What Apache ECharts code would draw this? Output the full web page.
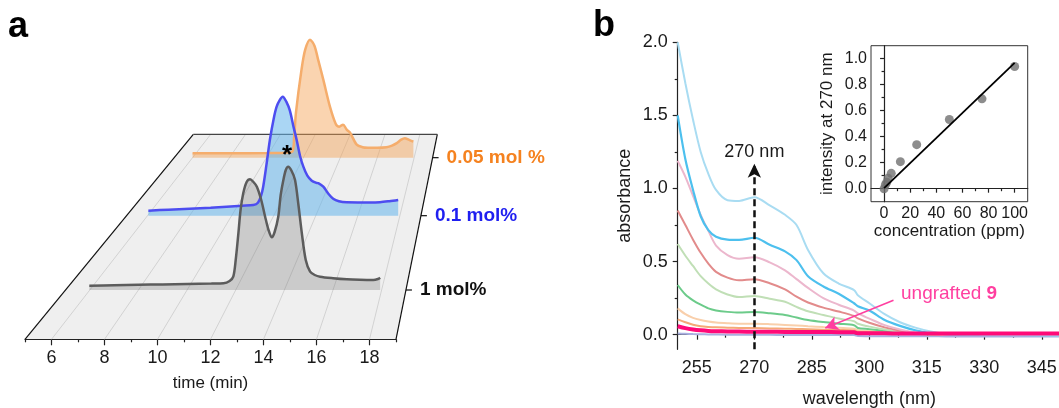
<!DOCTYPE html>
<html><head><meta charset="utf-8">
<script src="https://cdn.jsdelivr.net/npm/echarts@6/dist/echarts.min.js"></script>
<style>html,body{margin:0;padding:0;background:#fff;}#c{width:1059px;height:408px;}</style>
</head><body><div id="c"></div>
<script>
// ---------------- Panel a : GPC traces (time in min, normalised intensity) ----------------
const timeTicks = [6, 8, 10, 12, 14, 16, 18];
const timeMinor = [5, 7, 9, 11, 13, 15, 17, 19];
const traceLabels = ['0.05 mol %', '0.1 mol%', '1 mol%'];

const orangeTime = [6.0, 8, 10, 11.0, 11.4, 11.5, 11.6, 11.9, 12.1, 12.36, 12.6, 12.8, 13.08, 13.44, 13.75, 13.95, 14.15, 14.35, 14.53, 14.89, 15.2, 15.5, 16.0, 16.5, 16.8, 17.06, 17.3, 17.5, 17.7, 17.96];
const orangeInt  = [0.044, 0.045, 0.046, 0.05, 0.06, 0.2, 0.45, 0.88, 1.08, 1.18, 1.12, 0.98, 0.78, 0.51, 0.34, 0.31, 0.33, 0.28, 0.25, 0.13, 0.105, 0.10, 0.10, 0.105, 0.12, 0.145, 0.18, 0.195, 0.18, 0.16];

const blueTime = [6.04, 7, 8, 9, 9.76, 10.5, 11.03, 11.25, 11.4, 11.5, 11.65, 11.82, 12.0, 12.14, 12.3, 12.43, 12.6, 12.77, 12.93, 13.09, 13.25, 13.41, 13.6, 13.81, 14.0, 14.12, 14.36, 14.6, 14.83, 15.1, 15.47, 16.0, 16.5, 17.05, 17.5, 17.92];
const blueInt  = [0.05, 0.06, 0.07, 0.08, 0.09, 0.10, 0.107, 0.13, 0.2, 0.29, 0.5, 0.76, 0.97, 1.09, 1.16, 1.19, 1.14, 1.05, 0.9, 0.76, 0.6, 0.49, 0.4, 0.35, 0.33, 0.325, 0.29, 0.22, 0.17, 0.145, 0.134, 0.133, 0.133, 0.135, 0.145, 0.157];

const grayTime = [5.98, 7, 8, 9, 10, 11, 11.5, 11.75, 11.9, 12.0, 12.11, 12.2, 12.31, 12.45, 12.59, 12.73, 12.87, 13.05, 13.21, 13.35, 13.48, 13.6, 13.75, 13.85, 13.96, 14.06, 14.16, 14.3, 14.44, 14.58, 14.72, 14.88, 15.06, 15.25, 15.47, 16.0, 16.57, 17.1, 17.66, 17.85, 17.94];
const grayInt  = [0.043, 0.048, 0.052, 0.056, 0.06, 0.064, 0.067, 0.09, 0.133, 0.3, 0.567, 0.8, 0.967, 1.08, 1.107, 1.08, 1.033, 0.9, 0.733, 0.6, 0.527, 0.58, 0.733, 0.95, 1.1, 1.2, 1.233, 1.19, 1.1, 0.85, 0.567, 0.3, 0.183, 0.15, 0.133, 0.118, 0.107, 0.102, 0.1, 0.11, 0.123];

const starPoint = [12.63, 0.657];

// ---------------- Panel b : UV-vis spectra ----------------
const wavelengthTicks = [255, 270, 285, 300, 315, 330, 345];
const wavelengthMinor = [262.5, 277.5, 292.5, 307.5, 322.5, 337.5];
const absTicks = [0, 0.5, 1.0, 1.5, 2.0];
const absMinor = [0.25, 0.75, 1.25, 1.75];

const wl = [250, 252, 254, 256, 258, 260, 263, 266, 270, 274, 278, 281, 284, 288, 292, 296, 297, 300, 304, 308, 312, 316, 320, 330, 340, 350];
const absLightBlue = [2.0, 1.72, 1.47, 1.25, 1.10, 0.99, 0.92, 0.915, 0.94, 0.885, 0.82, 0.75, 0.58, 0.42, 0.35, 0.305, 0.27, 0.215, 0.14, 0.085, 0.048, 0.022, 0.007, 0.0, -0.003, -0.005];
const absCyan      = [1.5, 1.2, 0.99, 0.81, 0.715, 0.67, 0.65, 0.648, 0.663, 0.615, 0.57, 0.51, 0.40, 0.33, 0.28, 0.215, 0.195, 0.165, 0.10, 0.06, 0.03, 0.012, 0.004, 0.0, -0.002, -0.003];
const absPink      = [1.19, 1.08, 0.95, 0.82, 0.71, 0.61, 0.545, 0.52, 0.53, 0.495, 0.44, 0.38, 0.32, 0.25, 0.205, 0.165, 0.145, 0.11, 0.065, 0.035, 0.015, 0.005, 0.0, 0.0, -0.002, -0.003];
const absSalmon    = [0.85, 0.75, 0.65, 0.56, 0.486, 0.43, 0.39, 0.372, 0.38, 0.352, 0.31, 0.26, 0.22, 0.185, 0.158, 0.128, 0.112, 0.082, 0.05, 0.028, 0.012, 0.004, 0.0, 0.0, -0.002, -0.003];
const absLightGreen= [0.62, 0.54, 0.47, 0.40, 0.35, 0.31, 0.275, 0.258, 0.265, 0.246, 0.225, 0.19, 0.16, 0.135, 0.11, 0.092, 0.075, 0.055, 0.035, 0.018, 0.008, 0.003, 0.0, 0.0, -0.002, -0.003];
const absGreen     = [0.34, 0.275, 0.235, 0.205, 0.18, 0.166, 0.156, 0.151, 0.155, 0.147, 0.135, 0.117, 0.10, 0.086, 0.075, 0.065, 0.046, 0.038, 0.026, 0.015, 0.007, 0.003, 0.0, 0.0, -0.002, -0.003];
const absLightOrange=[0.18, 0.14, 0.115, 0.10, 0.09, 0.083, 0.078, 0.075, 0.075, 0.072, 0.067, 0.063, 0.058, 0.052, 0.047, 0.041, 0.03, 0.025, 0.018, 0.012, 0.007, 0.003, 0.001, 0.0, -0.002, -0.003];
const absOrange    = [0.105, 0.085, 0.068, 0.058, 0.053, 0.05, 0.048, 0.046, 0.045, 0.043, 0.041, 0.039, 0.037, 0.034, 0.032, 0.029, 0.02, 0.017, 0.013, 0.009, 0.006, 0.003, 0.001, 0.0, -0.002, -0.003];
const absUngrafted = [0.058, 0.045, 0.036, 0.03, 0.026, 0.024, 0.022, 0.021, 0.02, 0.02, 0.019, 0.019, 0.018, 0.018, 0.017, 0.017, 0.009, 0.009, 0.009, 0.008, 0.008, 0.008, 0.008, 0.008, 0.008, 0.008];
const absLavender  = [0.008, 0.006, 0.004, 0.003, 0.002, 0.001, 0.0, 0.0, -0.001, -0.001, -0.002, -0.002, -0.002, -0.003, -0.003, -0.003, -0.009, -0.01, -0.01, -0.011, -0.011, -0.011, -0.012, -0.012, -0.012, -0.012];

const arrow270 = [[270, -0.1], [270, 1.17]];
const ungraftedArrow = [[306.3, 0.235], [288.5, 0.045]];
const ungraftedLabelAt = [320.8, 0.283];

// inset
const concTicks = [0, 20, 40, 60, 80, 100];
const concMinor = [10, 30, 50, 70, 90];
const intTicks = [0, 0.2, 0.4, 0.6, 0.8, 1.0];
const intMinor = [0.1, 0.3, 0.5, 0.7, 0.9];
const concPPM = [0, 1, 2.1, 3.1, 5.5, 12.5, 25, 50, 75, 100];
const int270  = [0.0, 0.03, 0.05, 0.08, 0.118, 0.208, 0.339, 0.532, 0.691, 0.94];
const fitConc = [0, 100];
const fitInt  = [0.004, 0.968];

// ---------------- layout ----------------
const FONT = '"Liberation Sans", Arial, Helvetica, sans-serif';
const TXT = '#1a1a1a';
const FL = {x0: 25, x1: 396, y0: 339.3, tx0: 193.3, tx1: 437.3, y1: 134.3};
const DEPTH = [0.886, 0.603, 0.2405];
const PH = 150;
function plane(t) {
  return { y: FL.y0 - t * (FL.y0 - FL.y1), l: FL.x0 + t * (FL.tx0 - FL.x0), r: FL.x1 + t * (FL.tx1 - FL.x1) };
}
const zip = (a, b) => a.map((v, i) => [v, b[i]]);

const grids = [];
DEPTH.forEach(t => { const p = plane(t); grids.push({left: p.l, top: p.y - PH, width: p.r - p.l, height: PH}); });
grids.push({left: FL.x0, top: FL.y0 - 100, width: FL.x1 - FL.x0, height: 100});
grids.push({left: 677.7, top: 42.3, width: 383.3, height: 307});
grids.push({left: 871, top: 45.7, width: 156.7, height: 156, show: true, borderColor: '#333', borderWidth: 1, backgroundColor: '#fff'});
grids.forEach(g => { g.containLabel = false; g.outerBoundsMode = 'none'; });

const axLine = {show: true, lineStyle: {color: '#222', width: 1.2}};
function majorAxis(o) {
  return Object.assign({
    type: 'value', splitLine: {show: false}, axisLine: axLine,
    axisTick: {show: true, inside: false, length: o.tl || 5, customValues: o.ticks, lineStyle: {color: '#222', width: 1.2}},
    axisLabel: {show: true, customValues: o.ticks, margin: o.margin, fontSize: o.fs, fontFamily: FONT, color: TXT, hideOverlap: false, formatter: o.fmt},
    nameLocation: 'middle', nameTextStyle: {fontSize: o.nfs, fontFamily: FONT, color: TXT}
  }, o.extra);
}
function minorAxis(o) {
  return Object.assign({
    type: 'value', splitLine: {show: false}, axisLine: {show: false},
    axisTick: {show: true, inside: false, length: o.tl || 3, customValues: o.ticks, lineStyle: {color: '#222', width: 1.2}},
    axisLabel: {show: false}
  }, o.extra);
}
const fmt1 = v => v.toFixed(1);

const xAxis = [
  {type: 'value', gridIndex: 0, min: 5, max: 19, show: false},
  {type: 'value', gridIndex: 1, min: 5, max: 19, show: false},
  {type: 'value', gridIndex: 2, min: 5, max: 19, show: false},
  majorAxis({ticks: timeTicks, tl: 6, margin: 10, fs: 18, nfs: 17, extra: {gridIndex: 3, position: 'bottom', min: 5, max: 19, name: 'time (min)', nameGap: 36}}),
  minorAxis({ticks: timeMinor, tl: 3, extra: {gridIndex: 3, position: 'bottom', min: 5, max: 19}}),
  majorAxis({ticks: wavelengthTicks, tl: 5, margin: 10, fs: 18, nfs: 18, extra: {gridIndex: 4, position: 'bottom', min: 250, max: 350, name: 'wavelength (nm)', nameGap: 41}}),
  minorAxis({ticks: wavelengthMinor, tl: 3, extra: {gridIndex: 4, position: 'bottom', min: 250, max: 350}}),
  majorAxis({ticks: concTicks, tl: 4, margin: 4, fs: 16, nfs: 17, extra: {gridIndex: 5, position: 'bottom', min: -10, max: 110, name: 'concentration (ppm)', nameGap: 20}}),
  minorAxis({ticks: concMinor, tl: 2.5, extra: {gridIndex: 5, position: 'bottom', min: -10, max: 110}})
];
const yAxis = [
  {type: 'value', gridIndex: 0, min: 0, max: 1.5, show: false},
  {type: 'value', gridIndex: 1, min: 0, max: 1.5, show: false},
  {type: 'value', gridIndex: 2, min: 0, max: 1.5, show: false},
  {type: 'value', gridIndex: 3, min: 0, max: 1, show: false},
  majorAxis({ticks: absTicks, tl: 5, margin: 10, fs: 18, nfs: 18, fmt: fmt1, extra: {gridIndex: 4, position: 'left', min: -0.1, max: 2.0, name: 'absorbance', nameGap: 44}}),
  minorAxis({ticks: absMinor, tl: 3, extra: {gridIndex: 4, position: 'left', min: -0.1, max: 2.0}}),
  majorAxis({ticks: intTicks, tl: 4, margin: 4, fs: 16, nfs: 17, fmt: fmt1, extra: {gridIndex: 5, position: 'left', min: -0.1, max: 1.1, name: 'intensity at 270 nm', nameGap: 35}}),
  minorAxis({ticks: intMinor, tl: 2.5, extra: {gridIndex: 5, position: 'left', min: -0.1, max: 1.1}})
];

const aTraces = [
  {time: orangeTime, val: orangeInt, line: '#f5ad6c', fill: 'rgba(245,160,80,0.45)', label: '#f5821f'},
  {time: blueTime, val: blueInt, line: '#4d4df0', fill: 'rgba(100,180,235,0.55)', label: '#1f1ff0'},
  {time: grayTime, val: grayInt, line: '#5c5c5c', fill: 'rgba(120,120,120,0.30)', label: '#111111'}
];

const series = [];
aTraces.forEach((tr, i) => {
  const s = {
    type: 'line', xAxisIndex: i, yAxisIndex: i, data: zip(tr.time, tr.val),
    showSymbol: false, smooth: 0.3, silent: true,
    lineStyle: {color: tr.line, width: 2.5},
    areaStyle: {color: tr.fill, origin: 'start', opacity: 1}
  };
  if (i === 1) {
    s.markPoint = {silent: true, symbol: 'rect', symbolSize: [1, 1], itemStyle: {color: 'rgba(0,0,0,0)'},
      label: {show: true, position: 'inside', formatter: '*', fontSize: 26, fontWeight: 'bold', fontFamily: FONT, color: '#000', offset: [0, 6]},
      data: [{coord: starPoint}]};
  }
  series.push(s);
});

const bCurves = [
  {d: absLavender, c: '#a9afe0', w: 2},
  {d: absLightOrange, c: '#f9cfab', w: 2},
  {d: absOrange, c: '#f5a877', w: 2},
  {d: absGreen, c: '#6ccb8a', w: 2},
  {d: absLightGreen, c: '#c0dfb6', w: 2},
  {d: absSalmon, c: '#e28b8b', w: 2},
  {d: absPink, c: '#ecb7cd', w: 2},
  {d: absCyan, c: '#4dc0ee', w: 2.2},
  {d: absLightBlue, c: '#a9dcf2', w: 2},
  {d: absUngrafted, c: '#ff0a78', w: 4}
];
bCurves.forEach(cv => {
  series.push({type: 'line', xAxisIndex: 5, yAxisIndex: 4, data: zip(wl, cv.d), showSymbol: false, smooth: 0.3, silent: true,
    lineStyle: {color: cv.c, width: cv.w}});
});
// 270 nm dashed arrow
series[series.length - 1].markLine = {
  silent: true, symbol: ['none', 'arrow'], symbolSize: [10, 14],
  lineStyle: {color: '#111', width: 2.5, type: [7, 4]},
  label: {show: true, position: 'end', distance: 3, formatter: '270 nm', fontSize: 18, fontFamily: FONT, color: TXT},
  data: [[{coord: arrow270[0]}, {coord: arrow270[1]}]]
};
// ungrafted 9 arrow + label (on lavender series)
series[3].markLine = {
  silent: true, symbol: ['none', 'arrow'], symbolSize: [11, 13],
  lineStyle: {color: '#ff3fa0', width: 1.6, type: 'solid'},
  label: {show: false},
  data: [[{coord: ungraftedArrow[0]}, {coord: ungraftedArrow[1]}]]
};
series[3].markPoint = {
  silent: true, symbol: 'rect', symbolSize: [1, 1], itemStyle: {color: 'rgba(0,0,0,0)'},
  label: {show: true, position: 'inside', formatter: '{n|ungrafted }{b|9}',
    rich: {n: {fontSize: 19, fontFamily: FONT, color: '#ff3fa0'}, b: {fontSize: 19, fontFamily: FONT, fontWeight: 'bold', color: '#ff3fa0'}}},
  data: [{coord: ungraftedLabelAt}]
};

// inset
series.push({type: 'scatter', xAxisIndex: 7, yAxisIndex: 6, data: zip(concPPM, int270), symbol: 'circle', symbolSize: 9,
  itemStyle: {color: '#707070'}, silent: true});
series.push({type: 'line', xAxisIndex: 7, yAxisIndex: 6, data: zip(fitConc, fitInt), showSymbol: false, silent: true,
  lineStyle: {color: '#000', width: 1.8}});

// ---------------- graphic: pseudo-3D floor of panel a ----------------
const graphic = [];
graphic.push({type: 'polygon', silent: true, z: 0,
  shape: {points: [[FL.x0, FL.y0], [FL.x1, FL.y0], [FL.tx1, FL.y1], [FL.tx0, FL.y1]]},
  style: {fill: '#efefef', stroke: null}});
timeTicks.forEach(v => {
  const f = (v - 5) / 14;
  graphic.push({type: 'line', silent: true, z: 1,
    shape: {x1: FL.x0 + f * (FL.x1 - FL.x0), y1: FL.y0, x2: FL.tx0 + f * (FL.tx1 - FL.tx0), y2: FL.y1},
    style: {stroke: '#cacaca', lineWidth: 0.8}});
});
graphic.push({type: 'line', silent: true, z: 1, shape: {x1: FL.x0, y1: FL.y0, x2: FL.tx0, y2: FL.y1}, style: {stroke: '#111', lineWidth: 1.2}});
graphic.push({type: 'line', silent: true, z: 1, shape: {x1: FL.x1, y1: FL.y0, x2: FL.tx1, y2: FL.y1}, style: {stroke: '#111', lineWidth: 1.2}});
graphic.push({type: 'line', silent: true, z: 1, shape: {x1: FL.tx0, y1: FL.y1, x2: FL.tx1, y2: FL.y1}, style: {stroke: '#444', lineWidth: 1.2}});
DEPTH.forEach((t, i) => {
  const p = plane(t);
  graphic.push({type: 'line', silent: true, z: 1, shape: {x1: p.r, y1: p.y, x2: p.r + 6, y2: p.y}, style: {stroke: '#111', lineWidth: 1.2}});
  graphic.push({type: 'text', silent: true, z: 10, x: p.r + 14, y: p.y,
    style: {text: traceLabels[i], font: 'bold 19px ' + FONT, fill: aTraces[i].label, align: 'left', verticalAlign: 'middle', textAlign: 'left', textVerticalAlign: 'middle'}});
});
graphic.push({type: 'text', silent: true, z: 10, x: 8, y: 27,
  style: {text: 'a', font: 'bold 36px ' + FONT, fill: '#000', align: 'left', verticalAlign: 'middle', textAlign: 'left', textVerticalAlign: 'middle'}});
graphic.push({type: 'text', silent: true, z: 10, x: 593, y: 26,
  style: {text: 'b', font: 'bold 36px ' + FONT, fill: '#000', align: 'left', verticalAlign: 'middle', textAlign: 'left', textVerticalAlign: 'middle'}});

const chart = echarts.init(document.getElementById('c'), null, {renderer: 'canvas', width: 1059, height: 408});
chart.setOption({
  animation: false,
  backgroundColor: '#ffffff',
  grid: grids, xAxis: xAxis, yAxis: yAxis, series: series, graphic: graphic
});
</script></body></html>
